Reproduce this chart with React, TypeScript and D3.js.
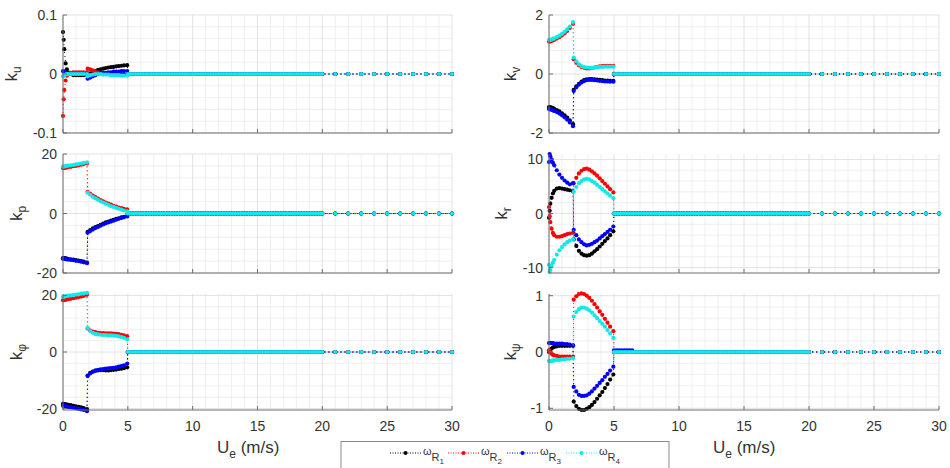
import React from "react";
import * as d3 from "d3";

const FONT = "'Liberation Sans', Arial, Helvetica, sans-serif";
const WIDTH = 950;
const HEIGHT = 468;

// Wind-speed samples of the low-speed regime (m/s); gains jump between 1.85 and 1.9
const U_LOW = [0, 0.05, 0.1, 0.2, 0.3, 0.4, 0.6, 0.8, 1.0, 1.2, 1.4, 1.6, 1.85,
  1.9, 2.1, 2.3, 2.5, 2.7, 2.9, 3.1, 3.3, 3.5, 3.7, 3.9, 4.1, 4.3, 4.5, 4.7, 4.95];
// Dense sweep from 5 to 20 m/s, where every gain has settled
const U_SETTLED = d3.range(5, 20.001, 0.2);
// Coarse sweep at the top end
const U_HIGH = [21, 22, 23, 24, 25, 26, 27, 28, 29, 30];
const U_TICKS = [0, 5, 10, 15, 20, 25, 30];

// k_u
const KU_R1 = [0.071, 0.058, 0.042, 0.018, 0.008, 0.003, 0.0, -0.002, -0.002, -0.002, -0.002, -0.002, -0.002,
  -0.001, 0.001, 0.003, 0.005, 0.007, 0.008, 0.009, 0.010, 0.011, 0.0115, 0.012, 0.013, 0.0135, 0.014, 0.0145, 0.015];
const KU_R2 = [-0.071, -0.043, -0.027, -0.011, -0.003, 0.0, 0.002, 0.003, 0.003, 0.003, 0.003, 0.003, 0.003,
  0.009, 0.008, 0.006, 0.004, 0.003, 0.002, 0.001, 0.0005, 0, -0.001, -0.001, -0.001, -0.001, -0.001, -0.001, -0.001];
const KU_R3 = [0.005, 0.004, 0.003, 0.001, 0, 0, 0, 0, 0, 0, 0, 0, 0,
  -0.008, -0.006, -0.004, -0.002, 0.0, 0.001, 0.002, 0.002, 0.003, 0.003, 0.004, 0.004, 0.004, 0.005, 0.005, 0.005];
const KU_R4 = [-0.004, -0.003, -0.002, -0.001, 0, 0, 0, 0, 0, 0, 0, 0, 0,
  -0.004, -0.002, -0.001, 0, 0, 0, -0.001, -0.001, -0.001, -0.002, -0.002, -0.002, -0.002, -0.003, -0.003, -0.003];

// k_v
const KV_R1 = [-1.12, -1.12, -1.13, -1.14, -1.16, -1.18, -1.22, -1.27, -1.33, -1.40, -1.48, -1.57, -1.70,
  -0.54, -0.42, -0.33, -0.26, -0.21, -0.18, -0.17, -0.17, -0.18, -0.19, -0.20, -0.21, -0.22, -0.22, -0.23, -0.23];
const KV_R2 = [1.10, 1.10, 1.11, 1.12, 1.14, 1.16, 1.20, 1.25, 1.31, 1.38, 1.46, 1.56, 1.70,
  0.50, 0.38, 0.30, 0.24, 0.21, 0.19, 0.19, 0.20, 0.22, 0.24, 0.26, 0.27, 0.28, 0.28, 0.28, 0.28];
const KV_R3 = [-1.19, -1.19, -1.20, -1.21, -1.23, -1.25, -1.29, -1.34, -1.40, -1.47, -1.55, -1.64, -1.77,
  -0.58, -0.45, -0.36, -0.29, -0.24, -0.21, -0.20, -0.20, -0.21, -0.22, -0.23, -0.24, -0.25, -0.25, -0.26, -0.26];
const KV_R4 = [1.15, 1.15, 1.16, 1.17, 1.19, 1.21, 1.25, 1.30, 1.36, 1.43, 1.51, 1.61, 1.76,
  0.56, 0.43, 0.33, 0.27, 0.23, 0.22, 0.21, 0.21, 0.22, 0.23, 0.24, 0.24, 0.25, 0.25, 0.25, 0.25];

// k_p
const KP_R1 = [-15.0, -15.0, -15.0, -15.1, -15.2, -15.3, -15.4, -15.5, -15.7, -15.8, -16.0, -16.2, -16.5,
  -6.2, -5.6, -5.0, -4.6, -4.2, -3.8, -3.4, -3.0, -2.7, -2.4, -2.1, -1.8, -1.6, -1.3, -1.1, -0.8];
const KP_R2 = [15.3, 15.3, 15.3, 15.4, 15.5, 15.6, 15.7, 15.9, 16.0, 16.2, 16.4, 16.6, 16.8,
  7.3, 6.6, 6.0, 5.5, 5.0, 4.5, 4.1, 3.7, 3.3, 3.0, 2.6, 2.3, 2.0, 1.8, 1.6, 1.4];
const KP_R3 = [-15.2, -15.2, -15.2, -15.3, -15.4, -15.5, -15.6, -15.7, -15.9, -16.0, -16.2, -16.4, -16.7,
  -6.5, -5.9, -5.4, -4.9, -4.5, -4.1, -3.7, -3.3, -3.0, -2.7, -2.4, -2.1, -1.8, -1.5, -1.3, -1.0];
const KP_R4 = [15.8, 15.8, 15.8, 15.9, 16.0, 16.1, 16.2, 16.3, 16.5, 16.6, 16.8, 17.0, 17.2,
  7.0, 6.3, 5.6, 5.1, 4.6, 4.1, 3.7, 3.3, 2.9, 2.5, 2.2, 1.9, 1.6, 1.3, 1.0, 0.7];

// k_r
const KR_R1 = [-0.8, 0.5, 1.8, 2.9, 3.7, 4.2, 4.6, 4.7, 4.6, 4.5, 4.4, 4.3, 4.1,
  -4.8, -6.0, -6.9, -7.4, -7.7, -7.8, -7.7, -7.4, -7.0, -6.6, -6.1, -5.6, -5.1, -4.6, -4.0, -3.3];
const KR_R2 = [1.2, -0.5, -1.6, -2.8, -3.6, -4.0, -4.3, -4.3, -4.2, -4.0, -3.8, -3.7, -3.6,
  5.6, 6.6, 7.4, 7.9, 8.2, 8.3, 8.1, 7.8, 7.4, 7.0, 6.5, 6.0, 5.5, 5.0, 4.5, 3.9];
const KR_R3 = [9.5, 11.0, 10.6, 10.0, 9.4, 8.9, 8.0, 7.2, 6.6, 6.1, 5.7, 5.4, 5.6,
  -3.0, -4.0, -4.8, -5.3, -5.7, -5.9, -5.8, -5.6, -5.3, -5.0, -4.6, -4.2, -3.8, -3.4, -3.0, -2.4];
const KR_R4 = [-9.5, -10.8, -10.4, -9.7, -9.1, -8.6, -7.6, -6.8, -6.2, -5.7, -5.3, -5.0, -4.8,
  4.0, 4.9, 5.6, 6.0, 6.3, 6.4, 6.3, 6.0, 5.7, 5.3, 4.9, 4.5, 4.1, 3.7, 3.3, 2.8];

// k_phi
const KPHI_R1 = [-18.3, -18.3, -18.4, -18.5, -18.6, -18.7, -18.8, -19.0, -19.2, -19.4, -19.6, -19.8, -20.2,
  -8.3, -7.4, -6.9, -6.6, -6.5, -6.4, -6.4, -6.5, -6.5, -6.4, -6.3, -6.2, -6.0, -5.9, -5.7, -5.4];
const KPHI_R2 = [18.3, 18.3, 18.4, 18.5, 18.6, 18.7, 18.8, 19.0, 19.2, 19.4, 19.6, 19.8, 20.2,
  8.3, 7.6, 7.2, 7.0, 6.8, 6.7, 6.7, 6.6, 6.6, 6.6, 6.5, 6.4, 6.3, 6.1, 5.9, 5.6];
const KPHI_R3 = [-19.0, -19.0, -19.1, -19.2, -19.3, -19.4, -19.5, -19.7, -19.9, -20.1, -20.3, -20.5, -20.9,
  -8.5, -7.6, -7.0, -6.6, -6.3, -6.1, -6.0, -5.9, -5.8, -5.7, -5.6, -5.4, -5.2, -5.0, -4.7, -4.1];
const KPHI_R4 = [19.5, 19.5, 19.6, 19.7, 19.8, 19.9, 20.0, 20.1, 20.3, 20.4, 20.6, 20.7, 20.9,
  8.5, 7.4, 6.8, 6.4, 6.2, 6.1, 6.0, 6.0, 5.9, 5.9, 5.8, 5.7, 5.5, 5.3, 5.0, 4.5];

// k_psi
const KPSI_R1 = [0.0, 0.02, 0.04, 0.06, 0.08, 0.09, 0.10, 0.11, 0.11, 0.11, 0.11, 0.11, 0.11,
  -0.88, -0.96, -1.01, -1.03, -1.03, -1.01, -0.98, -0.94, -0.89, -0.83, -0.77, -0.71, -0.64, -0.57, -0.49, -0.40];
const KPSI_R2 = [0.03, 0.01, -0.01, -0.03, -0.05, -0.06, -0.07, -0.08, -0.08, -0.08, -0.08, -0.08, -0.08,
  0.93, 0.99, 1.03, 1.04, 1.03, 1.00, 0.96, 0.91, 0.85, 0.79, 0.72, 0.66, 0.59, 0.52, 0.45, 0.37];
const KPSI_R3 = [0.16, 0.16, 0.16, 0.16, 0.16, 0.15, 0.15, 0.15, 0.15, 0.14, 0.14, 0.13, 0.12,
  -0.62, -0.70, -0.76, -0.78, -0.78, -0.77, -0.74, -0.70, -0.65, -0.60, -0.55, -0.50, -0.44, -0.39, -0.33, -0.26];
const KPSI_R4 = [-0.16, -0.16, -0.16, -0.16, -0.15, -0.15, -0.14, -0.14, -0.13, -0.13, -0.12, -0.12, -0.11,
  0.63, 0.71, 0.76, 0.79, 0.79, 0.77, 0.74, 0.70, 0.65, 0.60, 0.55, 0.50, 0.45, 0.39, 0.33, 0.25];
// rotor 3 yaw gain holds a small residual just above 5 m/s
const KPSI_R3_RESIDUAL = 0.03;
const KPSI_R3_RESIDUAL_END = 6.6;

const ROTOR_IDS = ["1", "2", "3", "4"];
const ROTOR_COLORS = ["#000000", "#ff0000", "#0000ff", "#12e8e8"];

// Layout of the 3x2 grid of axes
const COLS = [{ x0: 63, x1: 452 }, { x0: 549, x1: 939 }];
const ROWS = [{ y0: 15, y1: 133 }, { y0: 154, y1: 273 }, { y0: 294, y1: 410 }];

type Panel = {
  sym: string;
  col: number;
  row: number;
  domain: [number, number];
  ticks: number[];
  minor: number;
  labelX: number;
  series: number[][];
  settled?: (u: number, rotor: number) => number;
};

const PANELS: Panel[] = [
  { sym: "u", col: 0, row: 0, domain: [-0.1, 0.1], ticks: [-0.1, 0, 0.1], minor: 0.02, labelX: 17, series: [KU_R1, KU_R2, KU_R3, KU_R4] },
  { sym: "v", col: 1, row: 0, domain: [-2, 2], ticks: [-2, 0, 2], minor: 0.4, labelX: 516, series: [KV_R1, KV_R2, KV_R3, KV_R4] },
  { sym: "p", col: 0, row: 1, domain: [-20, 20], ticks: [-20, 0, 20], minor: 4, labelX: 22, series: [KP_R1, KP_R2, KP_R3, KP_R4] },
  { sym: "r", col: 1, row: 1, domain: [-11, 11], ticks: [-10, 0, 10], minor: 2, labelX: 507, series: [KR_R1, KR_R2, KR_R3, KR_R4] },
  { sym: "\u03C6", col: 0, row: 2, domain: [-20.5, 20.5], ticks: [-20, 0, 20], minor: 4, labelX: 22, series: [KPHI_R1, KPHI_R2, KPHI_R3, KPHI_R4] },
  {
    sym: "\u03C8", col: 1, row: 2, domain: [-1.03, 1.03], ticks: [-1, 0, 1], minor: 0.2, labelX: 516,
    series: [KPSI_R1, KPSI_R2, KPSI_R3, KPSI_R4],
    settled: (u, rotor) => (rotor === 2 && u < KPSI_R3_RESIDUAL_END ? KPSI_R3_RESIDUAL : 0),
  },
];

const AXIS_COLOR = "#6e6e6e";
const TEXT_COLOR = "#333333";
const GRID_MAJOR = "#dadada";
const GRID_MINOR = "#ebebeb";
const MARKER_R = 2.1;

function PanelView({ p }: { p: Panel }) {
  const { x0, x1 } = COLS[p.col];
  const { y0, y1 } = ROWS[p.row];
  const x = d3.scaleLinear().domain([0, 30]).range([x0, x1]);
  const y = d3.scaleLinear().domain(p.domain).range([y1, y0]);

  const minorX = d3.range(0, 30.001, 1).filter((u) => u % 5 !== 0);
  const minorY = d3
    .range(p.ticks[0], p.ticks[p.ticks.length - 1] + p.minor / 2, p.minor)
    .filter((v) => !p.ticks.some((t) => Math.abs(t - v) < p.minor / 10));

  const line = d3
    .line<[number, number]>()
    .x((d) => x(d[0]))
    .y((d) => y(d[1]));

  const seriesPoints = p.series.map((vals, k) => {
    const pts: [number, number][] = U_LOW.map((u, i) => [u, vals[i]]);
    const tailValue = (u: number) => (p.settled ? p.settled(u, k) : 0);
    U_SETTLED.forEach((u) => pts.push([u, tailValue(u)]));
    U_HIGH.forEach((u) => pts.push([u, tailValue(u)]));
    return pts;
  });

  const isBottom = p.row === 2;

  return (
    <g>
      {/* grid */}
      {minorX.map((u) => (
        <line key={"mx" + u} x1={x(u)} x2={x(u)} y1={y0} y2={y1} stroke={GRID_MINOR} strokeWidth={0.8} />
      ))}
      {minorY.map((v) => (
        <line key={"my" + v} x1={x0} x2={x1} y1={y(v)} y2={y(v)} stroke={GRID_MINOR} strokeWidth={0.8} />
      ))}
      {U_TICKS.map((u) => (
        <line key={"gx" + u} x1={x(u)} x2={x(u)} y1={y0} y2={y1} stroke={GRID_MAJOR} strokeWidth={0.8} />
      ))}
      {p.ticks.map((v) => (
        <line key={"gy" + v} x1={x0} x2={x1} y1={y(v)} y2={y(v)} stroke={GRID_MAJOR} strokeWidth={0.8} />
      ))}

      {/* series: dotted connecting line plus point markers */}
      {seriesPoints.map((pts, k) => (
        <g key={"s" + k}>
          <path
            d={line(pts) || ""}
            fill="none"
            stroke={ROTOR_COLORS[k]}
            strokeWidth={1}
            strokeDasharray="1 3"
            strokeDashoffset={k}
          />
          {pts.map((d, i) => (
            <circle key={i} cx={x(d[0])} cy={y(d[1])} r={MARKER_R} fill={ROTOR_COLORS[k]} />
          ))}
        </g>
      ))}

      {/* axes */}
      <line x1={x0} x2={x1} y1={y1} y2={y1} stroke={AXIS_COLOR} strokeWidth={1} />
      <line x1={x0} x2={x0} y1={y0} y2={y1} stroke={AXIS_COLOR} strokeWidth={1} />
      {U_TICKS.map((u) => (
        <line key={"tx" + u} x1={x(u)} x2={x(u)} y1={y1} y2={y1 - 4} stroke={AXIS_COLOR} strokeWidth={1} />
      ))}
      {p.ticks.map((v) => (
        <line key={"ty" + v} x1={x0} x2={x0 + 4} y1={y(v)} y2={y(v)} stroke={AXIS_COLOR} strokeWidth={1} />
      ))}
      {p.ticks.map((v) => (
        <text key={"ly" + v} x={x0 - 6} y={y(v) + 5} textAnchor="end" fontSize={14} fill={TEXT_COLOR}>
          {String(v)}
        </text>
      ))}
      {isBottom &&
        U_TICKS.map((u) => (
          <text key={"lx" + u} x={x(u)} y={431} textAnchor="middle" fontSize={14} fill={TEXT_COLOR}>
            {String(u)}
          </text>
        ))}
      {isBottom && (
        <text x={x0 + (p.col === 0 ? 154 : 164)} y={453} fontSize={17} fill={TEXT_COLOR}>
          U
          <tspan fontSize={12} dy={5}>e</tspan>
          <tspan dy={-5}> (m/s)</tspan>
        </text>
      )}

      {/* y label */}
      <text
        transform={`translate(${p.labelX},${(y0 + y1) / 2}) rotate(-90)`}
        textAnchor="middle"
        fontSize={17}
        fill={TEXT_COLOR}
      >
        k
        <tspan fontSize={12} dy={4}>{p.sym}</tspan>
      </text>
    </g>
  );
}

function Legend() {
  const top = 441.5;
  const cy = 453;
  const starts = [390, 448, 507, 566];
  return (
    <g>
      <rect x={341} y={top} width={328} height={32} fill="#ffffff" stroke="#8a8a8a" strokeWidth={1} />
      {ROTOR_IDS.map((id, k) => {
        const sx = starts[k];
        return (
          <g key={id}>
            <line x1={sx} x2={sx + 31} y1={cy} y2={cy} stroke={ROTOR_COLORS[k]} strokeWidth={1} strokeDasharray="1 1.5" />
            <circle cx={sx + 15.5} cy={cy} r={2} fill={ROTOR_COLORS[k]} />
            <text x={sx + 33} y={455} fontSize={11} fill={TEXT_COLOR}>
              {"\u03C9"}
              <tspan fontSize={11} dy={6}>R</tspan>
              <tspan fontSize={8} dy={3}>{id}</tspan>
            </text>
          </g>
        );
      })}
    </g>
  );
}

export default function App() {
  return (
    <svg
      width={WIDTH}
      height={HEIGHT}
      style={{ position: "absolute", left: 0, top: 0, background: "#ffffff", fontFamily: FONT }}
    >
      <rect x={0} y={0} width={WIDTH} height={HEIGHT} fill="#ffffff" />
      {PANELS.map((p) => (
        <PanelView key={p.sym} p={p} />
      ))}
      <Legend />
    </svg>
  );
}
